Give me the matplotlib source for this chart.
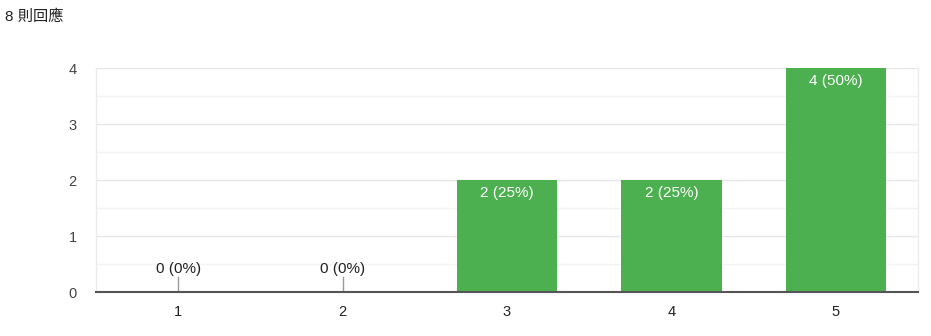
import matplotlib
matplotlib.use("Agg")
import matplotlib.pyplot as plt
from matplotlib.ticker import MultipleLocator

categories = ["1", "2", "3", "4", "5"]
counts = [0, 0, 2, 2, 4]
total = 8
title = "8 則回應"

plt.rcParams['font.family'] = ['Liberation Sans', 'Noto Sans CJK TC', 'DejaVu Sans']

fig = plt.figure(figsize=(9.31, 3.36), dpi=100)
ax = fig.add_axes([96/931, 44/336, 822/931, 224/336])

x = list(range(len(categories)))
bars = ax.bar(x, counts, width=0.61, color="#4caf50", zorder=3)

ax.set_xlim(-0.5, len(categories) - 0.5)
ax.set_ylim(0, 4)
ax.yaxis.set_major_locator(MultipleLocator(1))
ax.yaxis.set_minor_locator(MultipleLocator(0.5))
ax.grid(axis='y', which='major', color="#e6e6e6", linewidth=1, zorder=0)
ax.grid(axis='y', which='minor', color="#f3f3f3", linewidth=1, zorder=0)

for s in ["top", "right", "left"]:
    ax.spines[s].set_color("#ececec")
    ax.spines[s].set_linewidth(1)
ax.spines["top"].set_visible(False)
ax.spines["bottom"].set_color("#555555")
ax.spines["bottom"].set_linewidth(1.5)
ax.spines["bottom"].set_zorder(4)

ax.set_xticks(x)
ax.set_xticklabels(categories)
ax.tick_params(axis='x', length=0, pad=9, labelsize=10.5, labelcolor="#222222")
ax.tick_params(axis='y', which='both', length=0, pad=14, labelsize=10.5, labelcolor="#444444")

for xi, c in zip(x, counts):
    label = f"{c} ({c/total*100:.0f}%)"
    if c > 0:
        ax.annotate(label, (xi, c), xytext=(0, -4), textcoords='offset points',
                    ha='center', va='top', color='white', fontsize=11, zorder=5)
    else:
        ax.plot([xi, xi], [0, 0.27], color="#999999", linewidth=1, zorder=2)
        ax.annotate(label, (xi, 0.29), xytext=(0, 0), textcoords='offset points',
                    ha='center', va='bottom', color='#222222', fontsize=11, zorder=5)

fig.text(5/931, 1 - 17/336, title, ha='left', va='center', fontsize=11, color="#222222")

fig.savefig("out.png", dpi=100)
